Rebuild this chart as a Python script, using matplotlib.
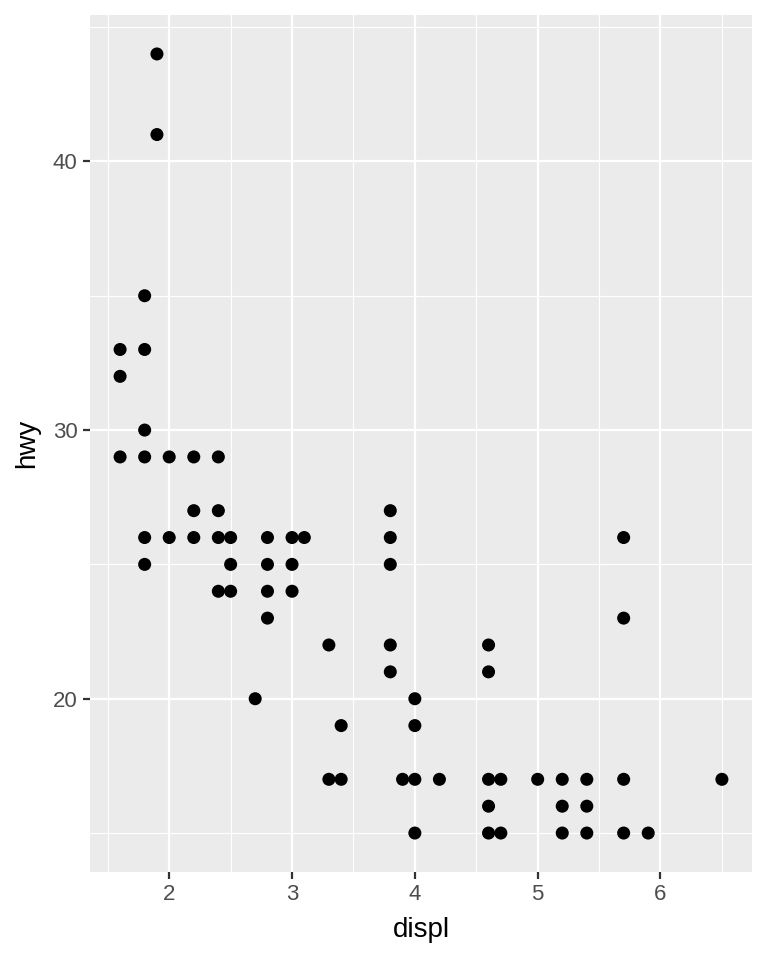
import matplotlib
matplotlib.use('Agg')
import matplotlib.pyplot as plt
import numpy as np

plt.rcParams['font.family'] = ['Liberation Sans', 'DejaVu Sans']

# engine displacement (litres) and highway mpg
displ = [1.9, 1.9,
         1.8, 1.6, 1.8, 1.6, 1.8,
         1.6, 1.8, 2.0, 2.2, 2.4,
         2.2, 2.4, 3.8,
         1.8, 2.0, 2.2, 2.4, 2.5, 2.8, 3.0, 3.1, 3.8, 5.7,
         1.8, 2.5, 2.8, 3.0, 3.8,
         2.4, 2.5, 2.8, 3.0,
         2.8, 5.7,
         3.3, 3.8, 4.6,
         3.8, 4.6,
         2.7, 4.0,
         3.4, 4.0,
         3.3, 3.4, 3.9, 4.0, 4.2, 4.6, 4.7, 5.0, 5.2, 5.4, 5.7, 6.5,
         4.6, 5.2, 5.4,
         4.0, 4.6, 4.7, 5.2, 5.4, 5.7, 5.9]
hwy = [44, 41,
       35, 33, 33, 32, 30,
       29, 29, 29, 29, 29,
       27, 27, 27,
       26, 26, 26, 26, 26, 26, 26, 26, 26, 26,
       25, 25, 25, 25, 25,
       24, 24, 24, 24,
       23, 23,
       22, 22, 22,
       21, 21,
       20, 20,
       19, 19,
       17, 17, 17, 17, 17, 17, 17, 17, 17, 17, 17, 17,
       16, 16, 16,
       15, 15, 15, 15, 15, 15, 15]

x_ticks = [2, 3, 4, 5, 6]
y_ticks = [20, 30, 40]

fig = plt.figure(figsize=(7.68, 9.6), dpi=100)
ax = fig.add_axes([90/768, 88/960, 662/768, 857/960])
ax.set_facecolor('#EBEBEB')

# ggplot-style 5% expansion of the data range
xr = max(displ) - min(displ)
yr = max(hwy) - min(hwy)
ax.set_xlim(min(displ) - 0.05*xr, max(displ) + 0.05*xr)
ax.set_ylim(min(hwy) - 0.05*yr, max(hwy) + 0.05*yr)

ax.set_xticks(x_ticks)
ax.set_yticks(y_ticks)
ax.set_xticks(np.arange(1.5, 7.0, 1.0), minor=True)
ax.set_yticks([15, 25, 35, 45], minor=True)
ax.grid(which='major', color='white', linewidth=1.6)
ax.grid(which='minor', color='white', linewidth=0.8)
ax.set_axisbelow(True)

ax.scatter(displ, hwy, s=88, color='black', edgecolors='none', zorder=3)

for s in ax.spines.values():
    s.set_visible(False)
ax.tick_params(which='major', length=5, width=1.6, color='#333333',
               labelcolor='#4D4D4D', labelsize=16, pad=4)
ax.tick_params(which='minor', length=0)

ax.set_xlabel('displ', fontsize=20, labelpad=8)
ax.set_ylabel('hwy', fontsize=20, labelpad=9)

fig.savefig('out.png', dpi=100)
